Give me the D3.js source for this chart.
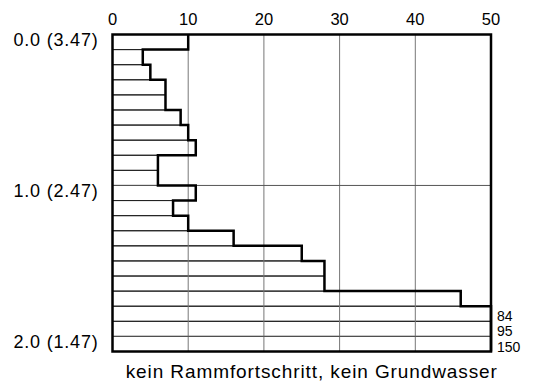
<!DOCTYPE html>
<html>
<head>
<meta charset="utf-8">
<script src="https://cdn.jsdelivr.net/npm/d3@7"></script>
<style>
  body { margin: 0; background: #fff; }
  text { font-family: "Liberation Sans", Arial, sans-serif; }
</style>
</head>
<body>
<div id="chart"></div>
<script>
// blows per 10 cm, depth in m below ground (top of each interval)
const depths = [0.0, 0.1, 0.2, 0.3, 0.4, 0.5, 0.6, 0.7, 0.8, 0.9, 1.0,
                1.1, 1.2, 1.3, 1.4, 1.5, 1.6, 1.7, 1.8, 1.9, 2.0];
const blows = [10, 4, 5, 7, 7, 9, 10, 11, 6, 6, 11,
               8, 10, 16, 25, 28, 28, 46, 84, 95, 150];
const xTicks = [0, 10, 20, 30, 40, 50];
const yTicks = [0.0, 1.0, 2.0];
const yLabels = ["0.0 (3.47)", "1.0 (2.47)", "2.0 (1.47)"];
const note = "kein Rammfortschritt, kein Grundwasser";
const step = 0.1, xMax = 50;

const W = 533, H = 383;
const m = {top: 34.5, right: 42, bottom: 31.5, left: 112.5};
const w = W - m.left - m.right, h = H - m.top - m.bottom;

const svg = d3.select("#chart").append("svg")
    .attr("width", W).attr("height", H);
const g = svg.append("g")
    .attr("transform", "translate(" + m.left + "," + m.top + ")");

const x = d3.scaleLinear().domain([0, xMax]).range([0, w]);
const y = d3.scaleLinear().domain([0, 2.1]).range([0, h]);

const rows = depths.map((d, i) => ({d: d, v: blows[i]}));

// row bars
g.selectAll(".row")
  .data(rows)
  .enter().append("rect")
    .attr("x", 0)
    .attr("y", d => y(d.d))
    .attr("width", d => x(Math.min(d.v, xMax)))
    .attr("height", y(step) - y(0))
    .attr("fill", "none")
    .attr("stroke", "#222")
    .attr("stroke-width", 1);

// grid
g.selectAll(".vgrid")
  .data(xTicks.slice(1, -1))
  .enter().append("line")
    .attr("x1", d => x(d)).attr("x2", d => x(d))
    .attr("y1", 0).attr("y2", h)
    .attr("stroke", "#777").attr("stroke-width", 1);

g.selectAll(".hgrid")
  .data(yTicks.slice(1))
  .enter().append("line")
    .attr("x1", 0).attr("x2", w)
    .attr("y1", d => y(d)).attr("y2", d => y(d))
    .attr("stroke", "#555").attr("stroke-width", 1);

// step profile
const pts = [];
rows.forEach(r => {
  const xv = Math.min(r.v, xMax);
  pts.push([xv, r.d]);
  pts.push([xv, r.d + step]);
});
g.append("path")
  .attr("d", d3.line().x(p => x(p[0])).y(p => y(p[1]))(pts))
  .attr("fill", "none")
  .attr("stroke", "#000")
  .attr("stroke-width", 2.5);

// frame
g.append("rect")
  .attr("x", 0).attr("y", 0).attr("width", w).attr("height", h)
  .attr("fill", "none").attr("stroke", "#000").attr("stroke-width", 2.5);

// top axis labels
g.selectAll(".xt")
  .data(xTicks)
  .enter().append("text")
    .attr("x", d => x(d))
    .attr("y", -10)
    .attr("text-anchor", "middle")
    .style("font-size", "16.5px")
    .text(d => d);

// depth labels
g.selectAll(".yt")
  .data(yTicks)
  .enter().append("text")
    .attr("x", -14)
    .attr("y", d => y(d) + 11.5)
    .attr("text-anchor", "end")
    .style("font-size", "18px")
    .style("letter-spacing", "0.8px")
    .text((d, i) => yLabels[i]);

// values beyond the scale
g.selectAll(".over")
  .data(rows.filter(r => r.v > xMax))
  .enter().append("text")
    .attr("x", w + 6)
    .attr("y", d => y(d.d + step))
    .style("font-size", "14px")
    .text(d => d.v);

// note
g.append("text")
  .attr("x", w / 2 + 10)
  .attr("y", h + 26)
  .attr("text-anchor", "middle")
  .style("font-size", "19px")
  .style("letter-spacing", "0.9px")
  .text(note);
</script>
</body>
</html>
